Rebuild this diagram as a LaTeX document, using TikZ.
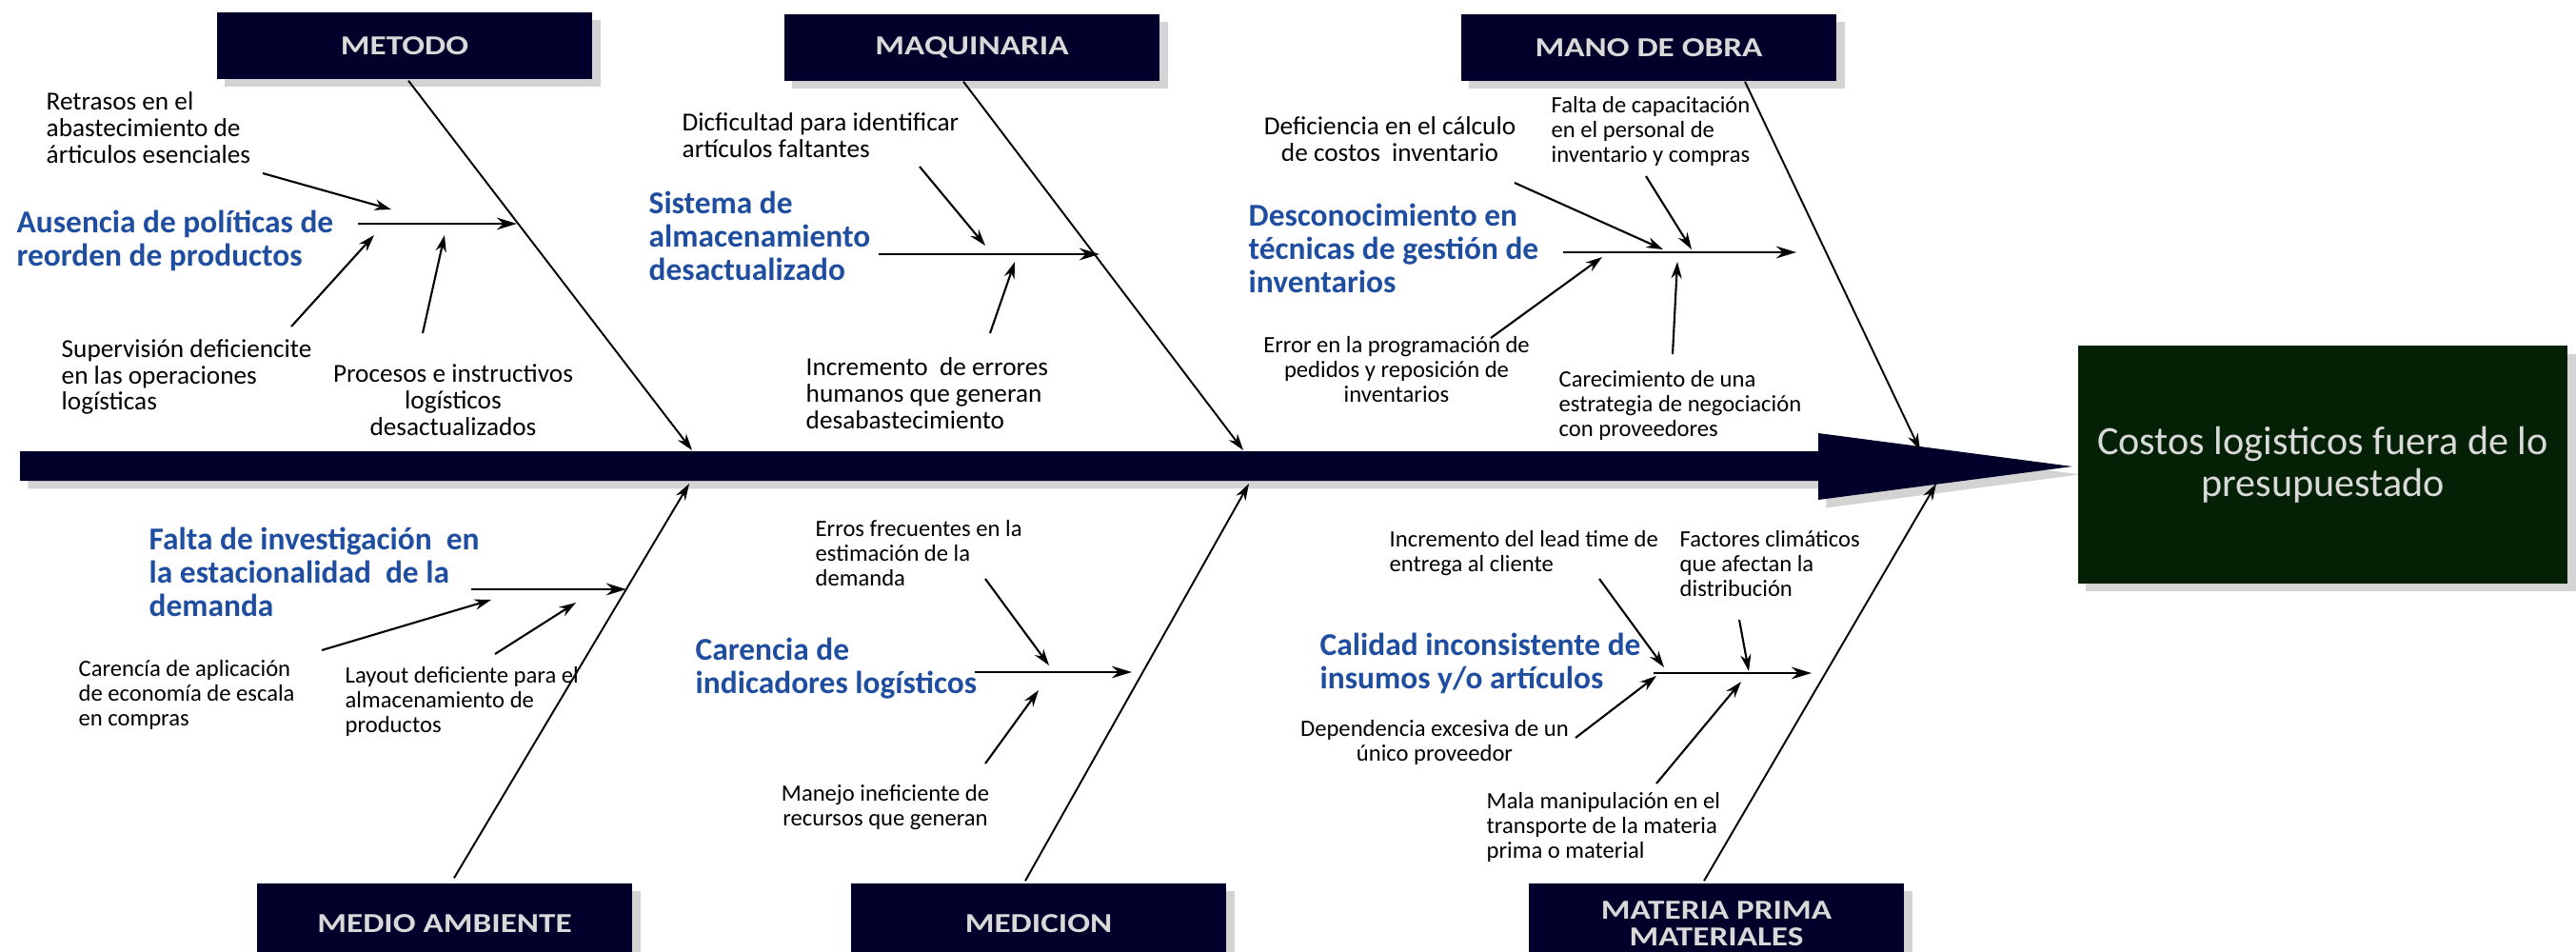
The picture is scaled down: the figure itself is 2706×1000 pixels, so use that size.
\documentclass[tikz,border=0pt]{standalone}
\usepackage{fontspec}
\setmainfont{Carlito}
\newfontfamily\boxfont[FakeStretch=1.22]{Carlito}
\usepackage{xcolor}
\usetikzlibrary{arrows.meta,shadows}

\definecolor{navy}{RGB}{0,0,42}
\definecolor{effgreen}{RGB}{5,33,5}
\definecolor{boxtext}{RGB}{217,217,217}
\definecolor{labblue}{RGB}{31,78,160}

\begin{document}
\begin{tikzpicture}[x=0.01cm, y=-0.01cm,
    cat/.style={fill=navy, text=boxtext, minimum width=3.94cm, minimum height=0.70cm,
      inner sep=0pt, align=center, font=\boxfont\bfseries\fontsize{8.2}{8}\selectfont,
      drop shadow={opacity=0.35}},
    effect/.style={fill=effgreen, text=boxtext, minimum width=5.14cm, minimum height=2.49cm,
      inner sep=0pt, align=center, font=\fontsize{12}{12.4}\selectfont,
      drop shadow={opacity=0.35}},
    lab/.style={text=labblue, font=\bfseries\fontsize{9.5}{10}\selectfont,
      align=left, anchor=west, inner sep=0pt},
    cause/.style={font=\fontsize{7}{7.5}\selectfont, align=left, anchor=west, inner sep=0pt},
    causebig/.style={cause, font=\fontsize{7.75}{7.9}\selectfont},
    bone/.style={line width=0.55pt, -{Stealth[length=5pt, width=3.2pt]}},
    sub/.style={line width=0.8pt, -{Stealth[length=6pt, width=3.6pt]}},
    feed/.style={line width=0.6pt, -{Stealth[length=5pt, width=3.2pt]}}
    ]
    \useasboundingbox (0,0) rectangle (2706,1000);

    \fill[navy, drop shadow={opacity=0.35}] (21,474) -- (1910,474) -- (1910,455) -- (2177,490)
      -- (1910,525) -- (1910,505) -- (21,505) -- cycle;

    \node[effect] (efecto) at (2440,488) {Costos logisticos fuera de lo\\presupuestado};

    \node[cat] (metodo) at (425,48) {METODO};
    \node[cat] (maquinaria) at (1021,50) {MAQUINARIA};
    \node[cat] (manoobra) at (1732,50) {MANO DE OBRA};
    \node[cat, minimum height=0.84cm] (medio) at (467,970) {MEDIO AMBIENTE};
    \node[cat, minimum height=0.84cm] (medicion) at (1091,970) {MEDICION};
    \node[cat, minimum height=0.84cm] (materia) at (1803,970) {MATERIA PRIMA\\MATERIALES};

    \coordinate (sp1) at (727,473);
    \coordinate (sp2) at (1306,473);
    \coordinate (sp3) at (2017,473);
    \coordinate (sp4) at (724,508);
    \coordinate (sp5) at (1312,508);
    \coordinate (sp6) at (2034,508);

    \draw[bone] ([shift={(4,1)}]metodo.south) -- (sp1);
    \draw[bone] ([shift={(-9,0)}]maquinaria.south) -- (sp2);
    \draw[bone] ([shift={(101,0)}]manoobra.south) -- (sp3);
    \draw[bone] ([shift={(10,-5)}]medio.north) -- (sp4);
    \draw[bone] ([shift={(-14,-2)}]medicion.north) -- (sp5);
    \draw[bone] ([shift={(-13,-2)}]materia.north) -- (sp6);

    \node[lab] (m-lab) at (17,253) {Ausencia de políticas de\\reorden de productos};
    \node[causebig] (m1) at (48,134) {Retrasos en el\\abastecimiento de\\árticulos esenciales};
    \node[causebig] (m2) at (64,396) {Supervisión deficiencite\\en las operaciones\\logísticas};
    \node[causebig, align=center, anchor=center] (m3) at (476,420) {Procesos e instructivos\\logísticos\\desactualizados};
    \coordinate (m-s) at (376,235);
    \coordinate (m-e) at (543,235);
    \coordinate (m1-a) at (276,182);
    \coordinate (m1-b) at (411,220);
    \coordinate (m2-a) at (306,343);
    \coordinate (m2-b) at (393,247);
    \coordinate (m3-a) at (444,350);
    \coordinate (m3-b) at (467,247);
    \draw[sub] (m-s) -- (m-e);
    \draw[feed] (m1-a) -- (m1-b);
    \draw[feed] (m2-a) -- (m2-b);
    \draw[feed] (m3-a) -- (m3-b);

    \node[lab] (q-lab) at (681,248) {Sistema de\\almacenamiento\\desactualizado};
    \node[causebig] (q1) at (716,142) {Dicficultad para identificar\\artículos faltantes};
    \node[causebig] (q2) at (846,413) {Incremento~ de errores\\humanos que generan\\desabastecimiento};
    \coordinate (q-s) at (923,267);
    \coordinate (q-e) at (1155,267);
    \coordinate (q1-a) at (966,175);
    \coordinate (q1-b) at (1035,258);
    \coordinate (q2-a) at (1040,350);
    \coordinate (q2-b) at (1066,275);
    \draw[sub] (q-s) -- (q-e);
    \draw[feed] (q1-a) -- (q1-b);
    \draw[feed] (q2-a) -- (q2-b);

    \node[lab] (o-lab) at (1311,261) {Desconocimiento en\\técnicas de gestión de\\inventarios};
    \node[causebig, align=center, anchor=center] (o1) at (1460,146) {Deficiencia en el cálculo\\de costos~ inventario};
    \node[cause] (o2) at (1629,138) {Falta de capacitación\\en el personal de\\inventario y compras};
    \node[cause, align=center, anchor=center] (o3) at (1467,388) {Error en la programación de\\pedidos y reposición de\\inventarios};
    \node[cause] (o4) at (1637,426) {Carecimiento de una\\estrategia de negociación\\con proveedores};
    \coordinate (o-s) at (1642,265);
    \coordinate (o-e) at (1887,265);
    \coordinate (o1-a) at (1591,192);
    \coordinate (o1-b) at (1747,262);
    \coordinate (o2-a) at (1729,185);
    \coordinate (o2-b) at (1777,262);
    \coordinate (o3-a) at (1566,355);
    \coordinate (o3-b) at (1683,270);
    \coordinate (o4-a) at (1757,372);
    \coordinate (o4-b) at (1762,275);
    \draw[sub] (o-s) -- (o-e);
    \draw[feed] (o1-a) -- (o1-b);
    \draw[feed] (o2-a) -- (o2-b);
    \draw[feed] (o3-a) -- (o3-b);
    \draw[feed] (o4-a) -- (o4-b);

    \node[lab] (e-lab) at (156,601) {Falta de investigación~ en\\la estacionalidad~ de la\\demanda};
    \node[cause] (e1) at (82,730) {Carencía de aplicación\\de economía de escala\\en compras};
    \node[cause] (e2) at (362,737) {Layout deficiente para el\\almacenamiento de\\productos};
    \coordinate (e-s) at (495,619);
    \coordinate (e-e) at (658,619);
    \coordinate (e1-a) at (338,683);
    \coordinate (e1-b) at (516,630);
    \coordinate (e2-a) at (520,687);
    \coordinate (e2-b) at (605,633);
    \draw[sub] (e-s) -- (e-e);
    \draw[feed] (e1-a) -- (e1-b);
    \draw[feed] (e2-a) -- (e2-b);

    \node[lab] (d-lab) at (730,702) {Carencia de\\indicadores logísticos};
    \node[cause] (d1) at (856,581) {Erros frecuentes en la\\estimación de la\\demanda};
    \node[cause, align=center, anchor=center] (d2) at (930,848) {Manejo ineficiente de\\recursos que generan};
    \coordinate (d-s) at (1024,706);
    \coordinate (d-e) at (1189,706);
    \coordinate (d1-a) at (1035,608);
    \coordinate (d1-b) at (1102,699);
    \coordinate (d2-a) at (1035,802);
    \coordinate (d2-b) at (1091,725);
    \draw[sub] (d-s) -- (d-e);
    \draw[feed] (d1-a) -- (d1-b);
    \draw[feed] (d2-a) -- (d2-b);

    \node[lab] (r-lab) at (1386,697) {Calidad inconsistente de\\insumos y/o artículos};
    \node[cause] (r1) at (1459,581) {Incremento del lead time de\\entrega al cliente};
    \node[cause] (r2) at (1764,592) {Factores climáticos\\que afectan la\\distribución};
    \node[cause, align=center, anchor=center] (r3) at (1507,780) {Dependencia excesiva de un\\único proveedor};
    \node[cause] (r4) at (1561,869) {Mala manipulación en el\\transporte de la materia\\prima o material};
    \coordinate (r-s) at (1737,707);
    \coordinate (r-e) at (1903,707);
    \coordinate (r1-a) at (1680,608);
    \coordinate (r1-b) at (1748,701);
    \coordinate (r2-a) at (1827,651);
    \coordinate (r2-b) at (1837,705);
    \coordinate (r3-a) at (1655,775);
    \coordinate (r3-b) at (1740,710);
    \coordinate (r4-a) at (1740,823);
    \coordinate (r4-b) at (1829,716);
    \draw[sub] (r-s) -- (r-e);
    \draw[feed] (r1-a) -- (r1-b);
    \draw[feed] (r2-a) -- (r2-b);
    \draw[feed] (r3-a) -- (r3-b);
    \draw[feed] (r4-a) -- (r4-b);
  \end{tikzpicture}
\end{document}
